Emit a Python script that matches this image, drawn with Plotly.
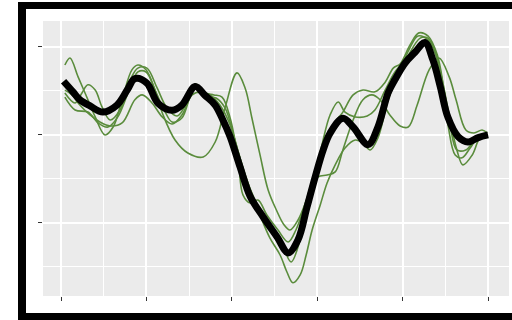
import plotly.graph_objects as go

# ---- data (x in arbitrary units 0..100, y in units with ticks at -1, 0, 1) ----
mean_x = [0.6, 2.8, 4.4, 6.8, 9.8, 13.1, 15.5, 17.3, 20.1, 22.7, 26.0, 28.3, 31.4, 33.7, 36.1,
          37.9, 39.6, 41.9, 44.3, 47.3, 50.6, 53.2, 55.5, 57.6, 59.5, 61.4, 63.0, 66.0, 68.4,
          71.9, 74.2, 76.6, 78.2, 80.6, 82.9, 85.2, 87.1, 88.8, 90.6, 93.0, 95.3, 97.7, 100.0]
mean_y = [0.61, 0.49, 0.40, 0.33, 0.26, 0.34, 0.51, 0.64, 0.59, 0.36, 0.28, 0.34, 0.55, 0.45, 0.34,
          0.17, -0.02, -0.36, -0.70, -0.93, -1.16, -1.34, -1.19, -0.82, -0.48, -0.17, 0.02, 0.19, 0.09,
          -0.11, 0.09, 0.48, 0.63, 0.82, 0.94, 1.05, 0.85, 0.55, 0.20, -0.02, -0.08, -0.03, 0.0]

a_x = [0.9, 2.1, 4.0, 6.3, 8.0, 10.3, 12.2, 14.3, 16.6, 18.0, 19.9, 22.0, 23.9, 26.7, 29.7, 33.3,
       36.1, 38.4, 41.2, 43.1, 44.7, 46.6, 48.5, 50.4, 52.2, 53.6, 55.5, 58.3, 60.2, 62.3, 64.2,
       66.0, 68.4, 70.7, 72.8, 74.7, 77.0, 79.4, 81.3, 83.4, 86.2, 88.5, 90.9, 92.5, 94.8, 96.7,
       98.6, 99.8]
a_y = [0.795, 0.875, 0.66, 0.40, 0.205, 0.0, 0.09, 0.40, 0.74, 0.795, 0.74, 0.51, 0.227, -0.057,
       -0.205, -0.25, -0.08, 0.307, 0.705, 0.534, 0.193, -0.227, -0.625, -0.85, -1.02, -1.08,
       -0.966, -0.648, -0.477, -0.455, -0.42, -0.17, 0.17, 0.40, 0.455, 0.40, 0.227, 0.102, 0.09,
       0.34, 0.74, 0.875, 0.66, 0.40, 0.057, 0.023, 0.057, 0.023]

b_x = [0.9, 3.3, 4.9, 6.3, 8.0, 9.6, 11.5, 13.8, 16.2, 18.0, 20.1, 22.5, 24.8, 27.2, 29.5, 31.4,
       33.7, 35.8, 37.7, 39.6, 41.5, 42.6, 44.3, 46.1, 48.2, 50.8, 53.2, 55.0, 57.1, 59.5, 61.8,
       64.2, 66.0, 68.4, 70.7, 73.5, 75.9, 77.8, 79.4, 81.7, 83.8, 85.9, 88.1, 89.7, 91.1, 92.7,
       94.8, 97.0, 99.8]
b_y = [0.477, 0.364, 0.477, 0.57, 0.51, 0.318, 0.17, 0.284, 0.625, 0.76, 0.76, 0.534, 0.307,
       0.216, 0.375, 0.58, 0.477, 0.455, 0.43, 0.193, -0.284, -0.68, -0.773, -0.74, -0.91, -1.08,
       -1.216, -1.08, -0.795, -0.40, -0.057, 0.148, 0.26, 0.455, 0.51, 0.49, 0.60, 0.76, 0.807,
       1.02, 1.16, 1.125, 0.91, 0.51, 0.114, -0.17, -0.17, -0.057, 0.0]

c_x = [0.9, 3.3, 6.3, 8.7, 11.0, 13.3, 15.7, 18.0, 19.9, 22.2, 24.4, 26.0, 28.3, 30.7, 32.1, 34.0,
       36.3, 38.4, 40.7, 43.1, 45.4, 47.8, 50.1, 52.2, 53.9, 56.0, 57.8, 59.5, 61.1, 63.0, 64.9,
       66.5, 68.9, 71.7, 73.5, 75.9, 78.2, 80.6, 84.1, 85.9, 87.8, 89.2, 90.6, 92.3, 93.9, 95.8,
       98.1, 99.8]
c_y = [0.43, 0.284, 0.26, 0.136, 0.09, 0.205, 0.477, 0.716, 0.716, 0.49, 0.26, 0.148, 0.193,
       0.49, 0.534, 0.443, 0.42, 0.307, -0.057, -0.455, -0.74, -0.966, -1.17, -1.307, -1.443,
       -1.19, -0.795, -0.455, -0.114, 0.227, 0.375, 0.26, 0.205, 0.216, 0.284, 0.51, 0.716, 0.85,
       1.10, 1.10, 0.91, 0.51, 0.114, -0.227, -0.26, -0.148, 0.0, 0.0]

d_x = [0.9, 2.6, 4.4, 6.8, 9.1, 11.5, 14.3, 17.3, 19.0, 21.3, 23.7, 26.0, 28.3, 30.7, 32.6, 34.9,
       37.2, 39.6, 41.9, 44.3, 46.6, 48.9, 51.3, 52.9, 54.3, 56.0, 57.4, 58.8, 60.7, 62.3, 64.2,
       66.5, 68.9, 70.7, 72.4, 74.2, 76.6, 78.9, 81.7, 83.6, 85.9, 87.8, 89.5, 91.1, 92.7, 94.1,
       96.3, 98.1, 99.8]
d_y = [0.51, 0.455, 0.34, 0.227, 0.148, 0.102, 0.136, 0.40, 0.455, 0.364, 0.205, 0.125, 0.227,
       0.455, 0.49, 0.455, 0.34, 0.114, -0.26, -0.625, -0.91, -1.17, -1.364, -1.557, -1.68,
       -1.59, -1.364, -1.08, -0.795, -0.545, -0.34, -0.148, -0.057, -0.09, -0.17, -0.034, 0.40,
       0.68, 0.99, 1.125, 1.08, 0.91, 0.57, 0.17, -0.17, -0.34, -0.227, -0.034, 0.0]

x_ticks = [0, 20, 40, 60, 80, 100]
y_ticks = [-1, 0, 1]

GREEN = "#5a8c3c"

fig = go.Figure()
for xs, ys in [(a_x, a_y), (b_x, b_y), (c_x, c_y), (d_x, d_y)]:
    fig.add_trace(go.Scatter(x=xs, y=ys, mode="lines",
                             line=dict(color=GREEN, width=1.6, shape="spline", smoothing=1.0),
                             hoverinfo="skip", showlegend=False))
fig.add_trace(go.Scatter(x=mean_x, y=mean_y, mode="lines",
                         line=dict(color="black", width=7, shape="spline", smoothing=1.0),
                         hoverinfo="skip", showlegend=False))

W, H = 512, 320
ML, MR, MT, MB = 43, 3, 21, 24
PW, PH = W - ML - MR, H - MT - MB


def px_x(p):
    return (p - ML) / PW


def px_y(p):
    return (H - MB - p) / PH


# thick black frame around the figure (right edge outside the picture)
frame = [(18, 2, 520, 9), (18, 2, 26, 322), (18, 313, 520, 322)]
shapes = []
for x0, y0, x1, y1 in frame:
    shapes.append(dict(type="rect", xref="paper", yref="paper",
                       x0=px_x(x0), x1=px_x(x1), y0=px_y(y1), y1=px_y(y0),
                       fillcolor="black", line=dict(width=0), layer="above"))

axis_common = dict(showticklabels=False, ticks="outside", ticklen=4, tickwidth=1.1,
                   tickcolor="#333333", showgrid=True, gridcolor="white", gridwidth=1.6,
                   zeroline=False, showline=False)

fig.update_layout(
    width=W, height=H,
    margin=dict(l=ML, r=MR, t=MT, b=MB),
    paper_bgcolor="white", plot_bgcolor="#ebebeb",
    shapes=shapes,
    xaxis=dict(range=[-4.22, 104.9], tickvals=x_ticks,
               minor=dict(dtick=10, tick0=0, showgrid=True, gridcolor="white", gridwidth=0.8, ticks=""),
               **axis_common),
    yaxis=dict(range=[-1.83, 1.295], tickvals=y_ticks,
               minor=dict(dtick=0.5, tick0=0, showgrid=True, gridcolor="white", gridwidth=0.8, ticks=""),
               **axis_common),
)

fig.write_html("out.html", config={"displayModeBar": False},
               post_script="document.body.style.margin='0';document.body.style.overflow='hidden';")
